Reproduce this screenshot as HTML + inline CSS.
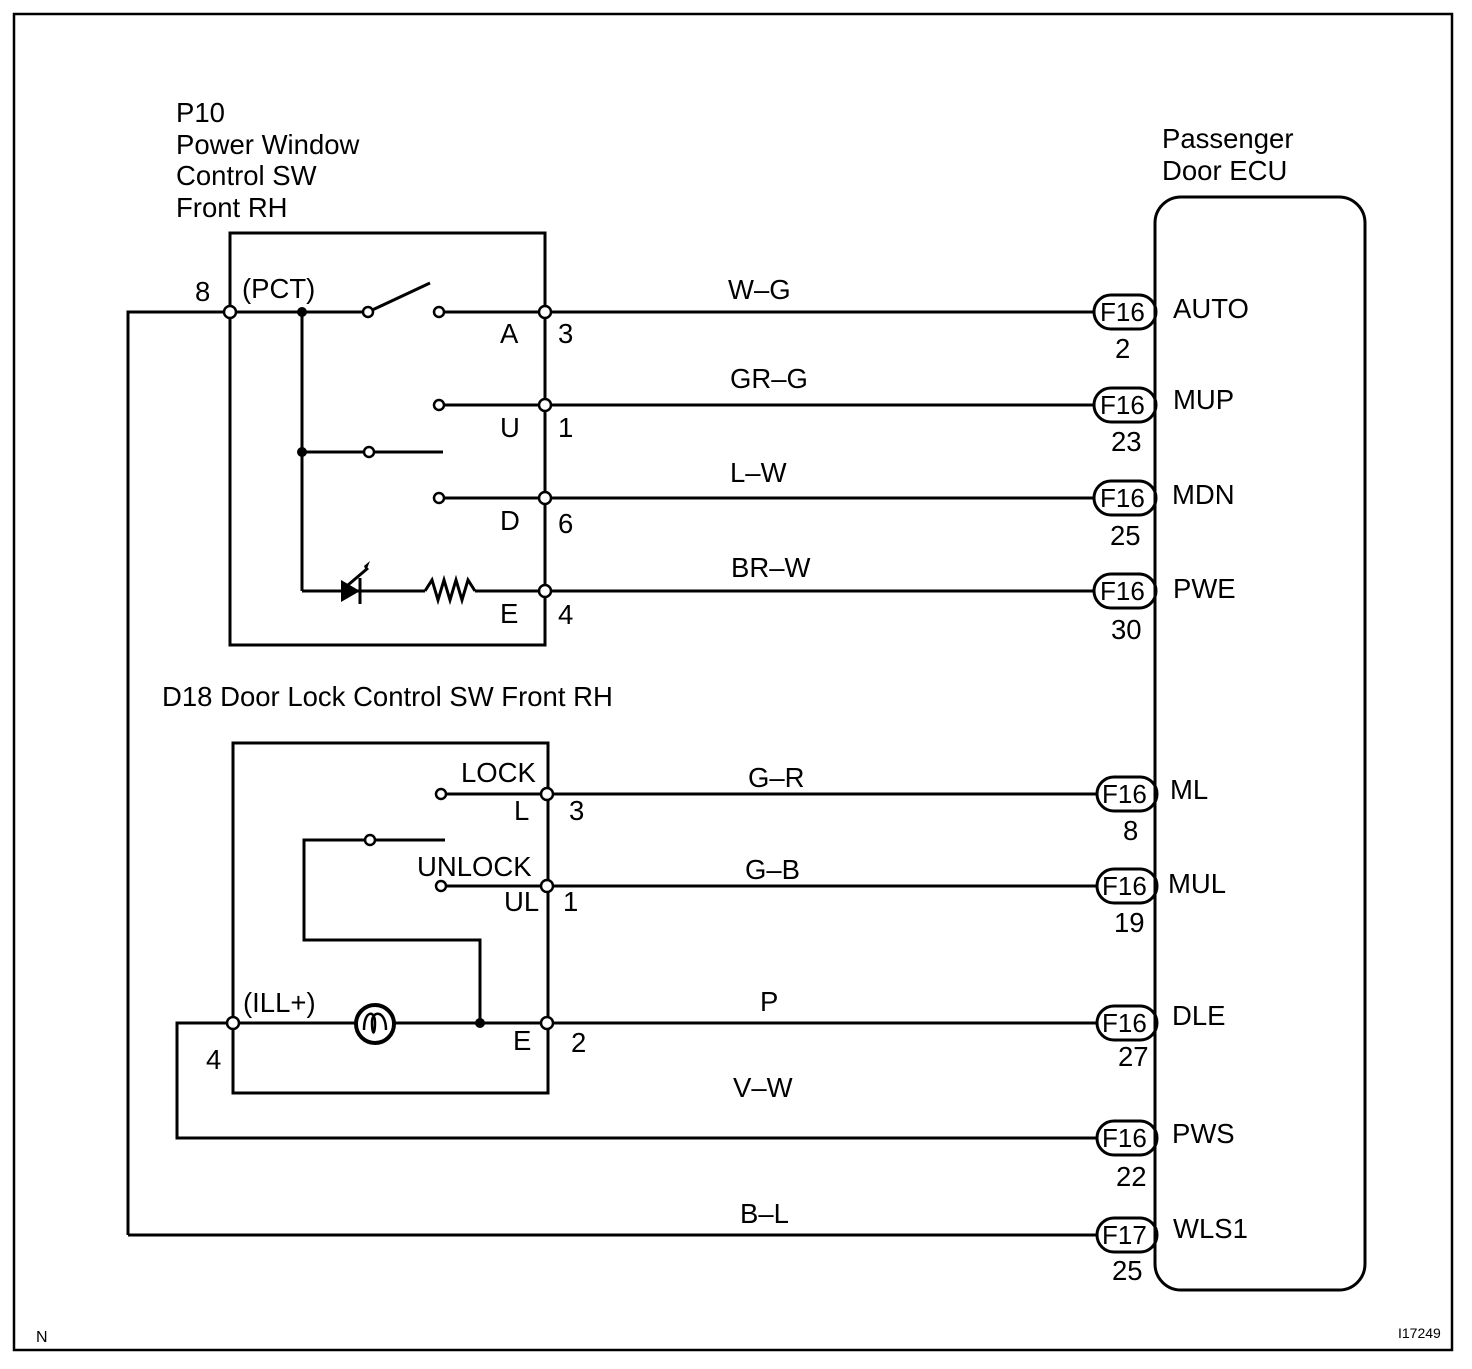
<!DOCTYPE html>
<html><head><meta charset="utf-8"><style>
html,body{margin:0;padding:0;background:#fff;}
svg text{font-family:"Liberation Sans",Arial,sans-serif;font-size:27.5px;fill:#000;}
svg text.c{font-size:26px;}
</style></head><body>
<svg width="1472" height="1364" viewBox="0 0 1472 1364" xmlns="http://www.w3.org/2000/svg">
<g fill="none" stroke="#000" stroke-width="3">
<rect x="14" y="14" width="1438" height="1336" stroke-width="2.5"/>
<rect x="1155" y="197" width="210" height="1093" rx="26"/>
<rect x="230" y="233" width="315" height="412"/>
<rect x="233" y="743" width="315" height="350"/>
<polyline points="128,1235 128,312 230,312"/>
<line x1="230" y1="312" x2="368" y2="312"/>
<line x1="368" y1="312" x2="430" y2="283"/>
<line x1="440" y1="312" x2="1094" y2="312"/>
<line x1="440" y1="405" x2="1094" y2="405"/>
<line x1="302" y1="312" x2="302" y2="591"/>
<line x1="302" y1="452" x2="443" y2="452"/>
<line x1="440" y1="498" x2="1094" y2="498"/>
<line x1="302" y1="591" x2="425" y2="591"/>
<polyline points="425,591 432,580 438,600 444,580 450,600 456,580 462,600 468,580 475,591"/>
<line x1="475" y1="591" x2="1094" y2="591"/>
<line x1="360" y1="578" x2="360" y2="604"/>
<line x1="348" y1="585" x2="368" y2="568"/>
<line x1="441" y1="794" x2="1097" y2="794"/>
<line x1="370" y1="840" x2="445" y2="840"/>
<polyline points="370,840 304,840 304,940 480,940 480,1023"/>
<line x1="441" y1="886" x2="1097" y2="886"/>
<line x1="233" y1="1023" x2="1097" y2="1023"/>
<polyline points="233,1023 177,1023 177,1138 1097,1138"/>
<line x1="128" y1="1235" x2="1097" y2="1235"/>
</g>
<polygon points="341,580 341,602 360,591" fill="#000"/>
<polygon points="364,566 370,561 366,571" fill="#000"/>
<circle cx="375" cy="1024" r="19" fill="#fff" stroke="#000" stroke-width="4"/>
<path d="M364,1030 C364,1010 375,1010 375,1022 C375,1036 372,1036 372,1022 C372,1010 386,1010 386,1030" fill="none" stroke="#000" stroke-width="2.5"/>
<g fill="#000"><circle cx="302" cy="312" r="5"/><circle cx="302" cy="452" r="5"/><circle cx="480" cy="1023" r="5"/></g>
<g fill="#fff" stroke="#000" stroke-width="2.5">
<circle cx="230" cy="312" r="6"/><circle cx="368" cy="312" r="5"/><circle cx="439" cy="312" r="5"/>
<circle cx="545" cy="312" r="6"/><circle cx="439" cy="405" r="5"/><circle cx="545" cy="405" r="6"/>
<circle cx="369" cy="452" r="5"/><circle cx="439" cy="498" r="5"/><circle cx="545" cy="498" r="6"/>
<circle cx="545" cy="591" r="6"/>
<circle cx="441" cy="794" r="5"/><circle cx="547" cy="794" r="6"/><circle cx="370" cy="840" r="5"/>
<circle cx="441" cy="886" r="5"/><circle cx="547" cy="886" r="6"/>
<circle cx="233" cy="1023" r="6"/><circle cx="547" cy="1023" r="6"/>
</g>
<g fill="#fff" stroke="#000" stroke-width="3">
<rect x="1094" y="295" width="62" height="34" rx="17"/>
<rect x="1094" y="388" width="62" height="34" rx="17"/>
<rect x="1094" y="481" width="62" height="34" rx="17"/>
<rect x="1094" y="574" width="62" height="34" rx="17"/>
<rect x="1097" y="777" width="60" height="34" rx="17"/>
<rect x="1097" y="869" width="60" height="34" rx="17"/>
<rect x="1097" y="1006" width="60" height="34" rx="17"/>
<rect x="1097" y="1121" width="60" height="34" rx="17"/>
<rect x="1097" y="1218" width="60" height="34" rx="17"/>
</g>
<line x1="1155" y1="230" x2="1155" y2="1260" stroke="#000" stroke-width="3"/>
<g>
<text class="c" x="1100" y="321">F16</text><text class="c" x="1100" y="414">F16</text><text class="c" x="1100" y="507">F16</text><text class="c" x="1100" y="600">F16</text>
<text class="c" x="1102" y="803">F16</text><text class="c" x="1102" y="895">F16</text><text class="c" x="1102" y="1032">F16</text><text class="c" x="1102" y="1147">F16</text><text class="c" x="1102" y="1244">F17</text>
<text x="1115" y="358">2</text><text x="1111" y="451">23</text><text x="1110" y="545">25</text><text x="1111" y="639">30</text>
<text x="1123" y="840">8</text><text x="1114" y="932">19</text><text x="1118" y="1066">27</text><text x="1116" y="1186">22</text><text x="1112" y="1280">25</text>
<text x="1173" y="318">AUTO</text><text x="1173" y="409">MUP</text><text x="1172" y="504">MDN</text><text x="1173" y="598">PWE</text>
<text x="1170" y="799">ML</text><text x="1168" y="893">MUL</text><text x="1172" y="1025">DLE</text><text x="1172" y="1143">PWS</text><text x="1173" y="1238">WLS1</text>
<text x="1162" y="148">Passenger</text><text x="1162" y="180">Door ECU</text>
<text x="176" y="122">P10</text><text x="176" y="154">Power Window</text><text x="176" y="185">Control SW</text><text x="176" y="217">Front RH</text>
<text x="162" y="706">D18 Door Lock Control SW Front RH</text>
<text x="728" y="299">W–G</text><text x="730" y="388">GR–G</text><text x="730" y="482">L–W</text><text x="731" y="577">BR–W</text>
<text x="748" y="787">G–R</text><text x="745" y="879">G–B</text><text x="760" y="1011">P</text><text x="733" y="1097">V–W</text><text x="740" y="1223">B–L</text>
<text x="195" y="301">8</text><text x="242" y="298">(PCT)</text>
<text x="500" y="343">A</text><text x="558" y="343">3</text>
<text x="500" y="437">U</text><text x="558" y="437">1</text>
<text x="500" y="530">D</text><text x="558" y="533">6</text>
<text x="500" y="623">E</text><text x="558" y="624">4</text>
<text x="461" y="782">LOCK</text><text x="514" y="820">L</text><text x="569" y="820">3</text>
<text x="417" y="876">UNLOCK</text><text x="504" y="911">UL</text><text x="563" y="911">1</text>
<text x="243" y="1012">(ILL+)</text><text x="513" y="1050">E</text><text x="571" y="1052">2</text><text x="206" y="1069">4</text>
<text x="36" y="1342" style="font-size:16px">N</text><text x="1398" y="1338" style="font-size:14px">I17249</text>
</g>
</svg>
</body></html>
